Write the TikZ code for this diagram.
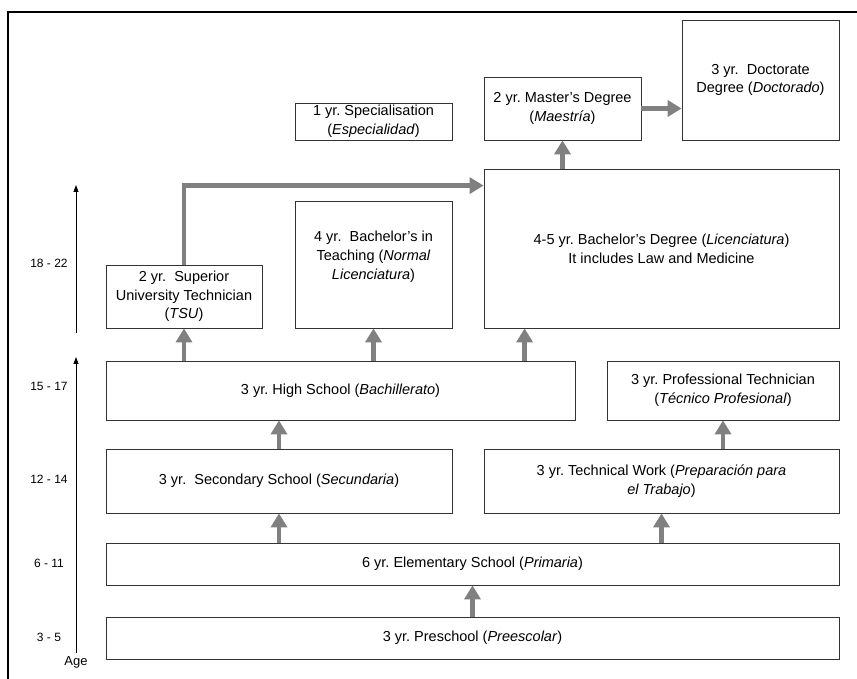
\documentclass[tikz,border=0pt]{standalone}
\usepackage{fontspec}
\setmainfont{Liberation Sans}
\usetikzlibrary{arrows.meta,positioning,calc}
\tikzset{
    level/.style ={rectangle, draw=black!80, line width=0.8pt, align=center, inner sep=2pt,
                   font=\fontsize{14.5}{18.7}\selectfont},
    flow/.style = {draw=black!50, line width=4.5pt, -{Triangle[width=16pt,length=14pt]}},
    agearrow/.style = {line width=0.8pt, -{Triangle[width=5pt,length=7pt]}},
    agelabel/.style = {inner sep=0pt, font=\fontsize{12}{14}\selectfont}
}
\frenchspacing
\begin{document}
\begin{tikzpicture}[x=1pt,y=1pt]
    \useasboundingbox (0,0) rectangle (857,679);
    % Frame
    \draw[line width=1.5pt] (8,0) -- (8,667) -- (857,667);
    % Basic and upper secondary levels
    \node[level,minimum width=733,minimum height=42] (pre) at (472.5,41) {3 yr. Preschool (\textit{Preescolar})};
    \node[level,minimum width=733,minimum height=42] (elem) at (472.5,115) {6 yr. Elementary School (\textit{Primaria})};
    \node[level,minimum width=346,minimum height=64] (sec) at (279,198) {3 yr.\ \ Secondary School (\textit{Secundaria})};
    \node[level,minimum width=355,minimum height=64] (tech) at (661.5,198) {3 yr. Technical Work (\textit{Preparación para}\\\textit{el Trabajo})};
    \node[level,minimum width=469,minimum height=59] (high) at (340.5,288.5) {3 yr. High School (\textit{Bachillerato})};
    \node[level,minimum width=232,minimum height=59] (prof) at (723,288.5) {3 yr. Professional Technician\\(\textit{Técnico Profesional})};
    % Higher education
    \node[level,minimum width=156,minimum height=63] (tsu) at (184,382.5) {2 yr.\ \ Superior\\University Technician\\(\textit{TSU})};
    \node[level,minimum width=157,minimum height=127] (teach) at (373.5,414.5) {4 yr.\ \ Bachelor's in\\Teaching (\textit{Normal}\\\textit{Licenciatura})\\\mbox{}};
    \node[level,minimum width=355,minimum height=159] (bach) at (661.5,430.5) {4-5 yr. Bachelor's Degree (\textit{Licenciatura})\\It includes Law and Medicine};
    \node[level,minimum width=157,minimum height=37] (spec) at (373.5,557.5) {1 yr. Specialisation\\(\textit{Especialidad})};
    \node[level,minimum width=157,minimum height=63] (master) at (562.5,570.5) {2 yr. Master's Degree\\(\textit{Maestría})};
    \node[level,minimum width=157,minimum height=120] (doct) at (760.5,599) {3 yr.\ \ Doctorate\\Degree (\textit{Doctorado})};
    % Age axis
    \coordinate (agelow) at (76,26);
    \coordinate (agemid) at (76,322);
    \coordinate (agebase) at (76,346);
    \coordinate (agetop) at (76,494);
    \draw[agearrow] (agelow) -- (agemid);
    \draw[agearrow] (agebase) -- (agetop);
    \node[agelabel] (a1) at (49,416) {18 - 22};
    \node[agelabel] (a2) at (49,293) {15 - 17};
    \node[agelabel] (a3) at (49,200) {12 - 14};
    \node[agelabel] (a4) at (49,116) {6 - 11};
    \node[agelabel] (a5) at (49,42) {3 - 5};
    \node[inner sep=0pt,font=\fontsize{13}{15}\selectfont] (age) at (76,17) {Age};
    % Pathways
    \coordinate (bachin) at ([xshift=41]bach.south west);
    \coordinate (bachside) at ([yshift=-17]bach.north west);
    \draw[flow] (pre.north) -- (elem.south);
    \draw[flow] (elem.north -| sec.south) -- (sec.south);
    \draw[flow] (elem.north -| tech.south) -- (tech.south);
    \draw[flow] (sec.north) -- (sec.north |- high.south);
    \draw[flow] (tech.north -| prof.south) -- (prof.south);
    \draw[flow] (high.north -| tsu.south) -- (tsu.south);
    \draw[flow] (high.north -| teach.south) -- (teach.south);
    \draw[flow] (high.north -| bachin) -- (bachin);
    \draw[flow] (bach.north -| master.south) -- (master.south);
    \draw[flow] (master.east) -- (master.east -| doct.west);
    \draw[flow] (tsu.north) |- (bachside);
\end{tikzpicture}
\end{document}
